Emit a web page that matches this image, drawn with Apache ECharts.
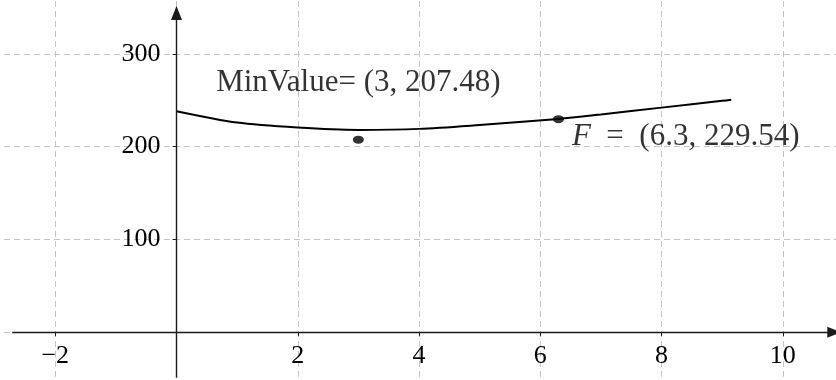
<!DOCTYPE html>
<html>
<head>
<meta charset="utf-8">
<script src="https://cdn.jsdelivr.net/npm/echarts@6/dist/echarts.min.js"></script>
<style>
  html, body { margin: 0; padding: 0; background: #ffffff; }
  #chart { width: 836px; height: 380px; }
</style>
</head>
<body>
<div id="chart"></div>
<script>
// Sampled curve f(x)
const curveX = [0, 1, 2, 3, 4, 5, 6.3, 7, 8, 9, 9.15];
const curveY = [238.2, 225.9, 220.5, 218.0, 219.1, 223.3, 229.8, 234.6, 242.0, 249.3, 250.4];

// Marked points
const minPoint = [3, 207.48];
const fPoint = [6.3, 229.54];

// Labelled ticks
const xTicks = [-2, 2, 4, 6, 8, 10];
const yTicks = [100, 200, 300];

// Drawn length of the two axis arrows (data units)
const xAxisExtent = [-2.71, 10.85];
const yAxisExtent = [-49, 344];

const SERIF = '"Liberation Serif", "Times New Roman", serif';
const GRID_COLOR = '#c4c4c4';
const INK = '#000000';

const fmtNum = v => (v < 0 ? '\u2212' + (-v) : String(v));

const chart = echarts.init(document.getElementById('chart'), null, { renderer: 'canvas' });

// plot box reaches past the canvas so the dashed grid fills it edge to edge
const GRID = { left: -66, right: -68, top: -39, bottom: -45 };
const X_RANGE = [-4, 12];
const Y_RANGE = [-100, 400];
const W = 836, H = 380;
const pxPerX = (W - GRID.left - GRID.right) / (X_RANGE[1] - X_RANGE[0]);
const pxPerY = (H - GRID.top - GRID.bottom) / (Y_RANGE[1] - Y_RANGE[0]);
// shift the axes from the box edges onto the zero lines
const xAxisShift = -(0 - Y_RANGE[0]) * pxPerY;
const yAxisShift = -(0 - X_RANGE[0]) * pxPerX;

chart.setOption({
  animation: false,
  backgroundColor: '#ffffff',
  grid: Object.assign({ containLabel: false, outerBoundsMode: 'none' }, GRID),
  xAxis: {
    type: 'value',
    position: 'bottom',
    offset: xAxisShift,
    min: X_RANGE[0], max: X_RANGE[1], interval: 2,
    axisLine: { show: false, onZero: false },
    axisTick: { show: true, length: 4, lineStyle: { color: '#222', width: 1 } },
    axisLabel: {
      show: true,
      margin: 11,
      color: INK,
      fontFamily: SERIF,
      fontSize: 26,
      formatter: v => (xTicks.includes(v) ? fmtNum(v) : '')
    },
    splitLine: { show: true, lineStyle: { color: GRID_COLOR, width: 1, type: [6, 4] } }
  },
  yAxis: {
    type: 'value',
    position: 'left',
    offset: yAxisShift,
    min: Y_RANGE[0], max: Y_RANGE[1], interval: 100,
    axisLine: { show: false, onZero: false },
    axisTick: { show: true, length: 4, lineStyle: { color: '#222', width: 1 } },
    axisLabel: {
      show: true,
      margin: 16,
      color: INK,
      fontFamily: SERIF,
      fontSize: 26,
      formatter: v => (yTicks.includes(v) ? fmtNum(v) : '')
    },
    splitLine: { show: true, lineStyle: { color: GRID_COLOR, width: 1, type: [6, 4] } }
  },
  series: [
    {
      // axes with arrow heads
      type: 'line',
      data: [],
      silent: true,
      markLine: {
        silent: true,
        symbol: ['none', 'triangle'],
        symbolSize: [11, 14],
        label: { show: false },
        lineStyle: { color: '#1a1a1a', width: 1.4, type: 'solid' },
        data: [
          [{ coord: [xAxisExtent[0], 0] }, { coord: [xAxisExtent[1], 0] }],
          [{ coord: [0, yAxisExtent[0]] }, { coord: [0, yAxisExtent[1]] }]
        ]
      }
    },
    {
      name: 'f',
      type: 'line',
      smooth: 0.3,
      showSymbol: false,
      lineStyle: { color: '#000000', width: 2 },
      data: curveX.map((x, i) => [x, curveY[i]]),
      z: 3
    },
    {
      name: 'points',
      type: 'scatter',
      symbol: 'circle',
      symbolSize: [11, 8],
      itemStyle: { color: '#000000' },
      z: 4,
      data: [
        {
          value: minPoint,
          label: {
            show: true,
            position: 'top',
            distance: 37,
            color: INK,
            fontFamily: SERIF,
            fontSize: 31,
            formatter: () => `MinValue= (${minPoint[0]}, ${minPoint[1]})`
          }
        },
        {
          value: fPoint,
          label: {
            show: true,
            position: 'right',
            distance: 8,
            offset: [0, 18],
            color: INK,
            fontFamily: SERIF,
            fontSize: 31,
            formatter: () => `{it|F}  =  (${fPoint[0]}, ${fPoint[1]})`,
            rich: {
              it: { fontFamily: SERIF, fontStyle: 'italic', fontSize: 31, color: INK }
            }
          }
        }
      ]
    }
  ]
});
</script>
</body>
</html>
